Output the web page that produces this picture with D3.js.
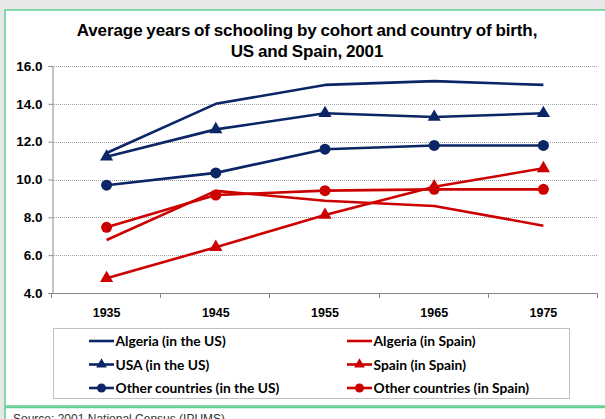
<!DOCTYPE html>
<html>
<head>
<meta charset="utf-8">
<script src="https://cdn.jsdelivr.net/npm/d3@7"></script>
<style>
  html, body { margin: 0; padding: 0; background: #e7e7e7; }
  svg { display: block; }
</style>
</head>
<body>
<svg id="chart" width="605" height="419"></svg>
<script>
    // cohorts (year of birth)
    const cohorts = ["1935", "1945", "1955", "1965", "1975"];
    const yTicks = [4, 6, 8, 10, 12, 14, 16];

    // average years of schooling
    const algeriaUS    = [11.4, 14.0, 15.0, 15.2, 15.0];
    const usaUS        = [11.2, 12.65, 13.5, 13.3, 13.5];
    const otherUS      = [9.7, 10.35, 11.6, 11.8, 11.8];
    const algeriaSpain = [6.8, 9.4, 8.88, 8.6, 7.56];
    const spainSpain   = [4.78, 6.42, 8.12, 9.62, 10.59];
    const otherSpain   = [7.47, 9.18, 9.41, 9.48, 9.48];

    const navy = "#0b2566";
    const red = "#cc0000";

    const series = [
        {name: "Algeria (in the US)", values: algeriaUS, color: navy, marker: null},
        {name: "USA (in the US)", values: usaUS, color: navy, marker: "tri"},
        {name: "Other countries (in the US)", values: otherUS, color: navy, marker: "dot"},
        {name: "Algeria (in Spain)", values: algeriaSpain, color: red, marker: null},
        {name: "Spain (in Spain)", values: spainSpain, color: red, marker: "tri"},
        {name: "Other countries (in Spain)", values: otherSpain, color: red, marker: "dot"}
    ];

    const svg = d3.select("#chart");

    // frames
    svg.append("rect").attr("x", 5).attr("y", 10).attr("width", 620).attr("height", 396)
        .attr("fill", "#fff").attr("stroke", "#5fd08f").attr("stroke-width", 1.5);
    svg.append("rect").attr("x", 5).attr("y", 407.5).attr("width", 620).attr("height", 40)
        .attr("fill", "#fff").attr("stroke", "#5fd08f").attr("stroke-width", 1.5);

    svg.append("text")
        .attr("x", 13).attr("y", 423)
        .attr("font-family", "Liberation Sans, Arial, sans-serif")
        .attr("font-size", 12).attr("fill", "#333")
        .text("Source: 2001 National Census (IPUMS)");

    // title
    const title = svg.append("text")
        .attr("text-anchor", "middle")
        .attr("font-family", "Liberation Sans, Arial, sans-serif")
        .attr("font-weight", "bold").attr("font-size", 17)
        .attr("letter-spacing", -0.1).attr("word-spacing", -0.8)
        .attr("fill", "#000");
    title.append("tspan").attr("x", 307).attr("y", 36).text("Average years of schooling by cohort and country of birth,");
    title.append("tspan").attr("x", 307).attr("y", 56.5).text("US and Spain, 2001");

    const pLeft = 52, pRight = 598, pTop = 66, pBottom = 293;

    const x = d3.scaleBand().domain(cohorts).range([pLeft, pRight]);
    const cx = d => x(d) + x.bandwidth() / 2;
    const y = d3.scaleLinear().domain([4, 16]).range([pBottom, pTop]);

    // grid
    svg.append("g").selectAll("line")
        .data(yTicks.filter(t => t > 4))
        .join("line")
        .attr("x1", pLeft).attr("x2", pRight)
        .attr("y1", d => Math.round(y(d)) + 0.5).attr("y2", d => Math.round(y(d)) + 0.5)
        .attr("stroke", "#a0a0a0").attr("stroke-width", 1)
        .attr("stroke-dasharray", "1,1");

    // y axis
    const yAxis = svg.append("g")
        .attr("transform", "translate(" + (pLeft + 0.5) + ",0)")
        .call(d3.axisLeft(y).tickValues(yTicks).tickFormat(d3.format(".1f")).tickSize(4).tickPadding(6));
    yAxis.select(".domain").attr("stroke", "#888");
    yAxis.selectAll(".tick line").attr("stroke", "#888");
    yAxis.selectAll("text")
        .attr("font-family", "Liberation Sans, Arial, sans-serif")
        .attr("font-weight", "bold").attr("font-size", 13.5).attr("fill", "#000");

    // x axis
    const xg = svg.append("g");
    xg.append("line")
        .attr("x1", pLeft).attr("x2", pRight)
        .attr("y1", pBottom + 0.5).attr("y2", pBottom + 0.5)
        .attr("stroke", "#888");
    const bounds = cohorts.map(c => x(c)).concat([pRight]);
    xg.selectAll(".xt").data(bounds).join("line")
        .attr("class", "xt")
        .attr("x1", d => Math.round(d) - 0.5).attr("x2", d => Math.round(d) - 0.5)
        .attr("y1", pBottom).attr("y2", pBottom + 5)
        .attr("stroke", "#888");
    xg.selectAll("text").data(cohorts).join("text")
        .attr("x", d => cx(d)).attr("y", 317)
        .attr("text-anchor", "middle")
        .attr("font-family", "Liberation Sans, Arial, sans-serif")
        .attr("font-weight", "bold").attr("font-size", 12.5)
        .text(d => d);

    // lines
    const line = d3.line()
        .x((d, i) => cx(cohorts[i]))
        .y(d => y(d));

    const tri = d3.symbol().type(d3.symbolTriangle).size(75);

    function drawMarker(g, type, color) {
        if (type === "dot") {
            g.append("circle").attr("r", 5.5).attr("fill", color);
        } else if (type === "tri") {
            g.append("path").attr("d", tri()).attr("fill", color);
        }
    }

    const plot = svg.append("g");
    series.forEach(s => {
        plot.append("path")
            .datum(s.values)
            .attr("d", line)
            .attr("fill", "none")
            .attr("stroke", s.color)
            .attr("stroke-width", 2.6)
            .attr("stroke-linejoin", "round");
        if (s.marker) {
            s.values.forEach((v, i) => {
                const g = plot.append("g")
                    .attr("transform", "translate(" + cx(cohorts[i]) + "," + y(v) + ")");
                drawMarker(g, s.marker, s.color);
            });
        }
    });

    // legend
    const lg = svg.append("g");
    lg.append("rect")
        .attr("x", 53.5).attr("y", 328.5).attr("width", 516).attr("height", 70)
        .attr("fill", "#fff").attr("stroke", "#c0c0c0");
    series.forEach((s, i) => {
        const col = Math.floor(i / 3), row = i % 3;
        const lx = col === 0 ? 89 : 347;
        const ly = 341 + row * 23.5;
        const item = lg.append("g").attr("transform", "translate(" + lx + "," + ly + ")");
        item.append("line")
            .attr("x1", 0).attr("x2", 25).attr("y1", 0).attr("y2", 0)
            .attr("stroke", s.color).attr("stroke-width", 2.6);
        if (s.marker) {
            const m = item.append("g").attr("transform", "translate(12.5,0)");
            if (s.marker === "dot") m.append("circle").attr("r", 4.5).attr("fill", s.color);
            else m.append("path").attr("d", d3.symbol().type(d3.symbolTriangle).size(50)()).attr("fill", s.color);
        }
        item.append("text")
            .attr("x", 26.5).attr("y", 5)
            .attr("font-family", "Lato, Open Sans, sans-serif")
            .attr("font-weight", "bold").attr("font-size", 13.8)
            .attr("fill", "#000")
            .text(s.name);
    });
</script>
</body>
</html>
